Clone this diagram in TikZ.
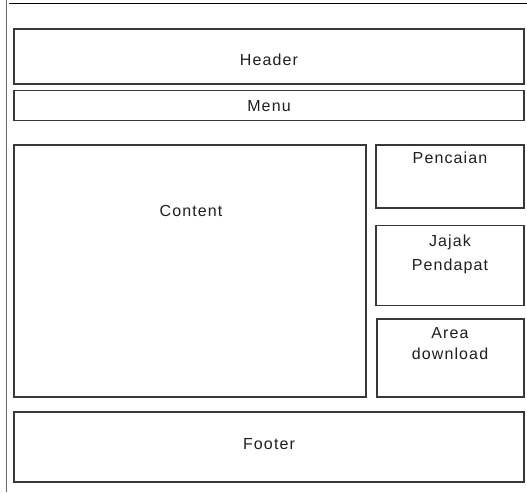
\documentclass[tikz,border=0pt]{standalone}
\usepackage{fontspec}
\setmainfont{Liberation Sans}[LetterSpace=7]
\begin{document}
\begin{tikzpicture}[x=0.75pt,y=-0.75pt,
  box/.style={draw=black!78, line width=0.9pt, fill=white, inner sep=0pt, anchor=center},
  lbl/.style={anchor=base, inner sep=0pt, font=\fontsize{12}{14}\selectfont, text=black!88}]
\useasboundingbox[fill=white] (0,0) rectangle (527,492);
% page frame
\coordinate (fl1) at (6.5,0);
\coordinate (fl2) at (6.5,492);
\coordinate (ft1) at (9,3.3);
\coordinate (ft2) at (527,3.3);
\draw[black!60, line width=1.2pt] (fl1) -- (fl2);
\draw[black, line width=0.8pt] (ft1) -- (ft2);
% boxes
\node[box, minimum width=382.5pt, minimum height=41.25pt] (header) at (269,56.5) {};
\node[box, minimum width=382.5pt, minimum height=22.5pt] (menu) at (269,105.5) {};
\node[box, minimum width=264pt, minimum height=189pt] (content) at (190,271) {};
\node[box, minimum width=111pt, minimum height=47.25pt] (pencaian) at (450,176.5) {};
\node[box, minimum width=111pt, minimum height=60pt] (jajak) at (450,265.5) {};
\node[box, minimum width=110.25pt, minimum height=58.5pt] (area) at (450.5,358) {};
\node[box, minimum width=382.5pt, minimum height=52.5pt] (footer) at (269,447) {};
% labels
\node[lbl] (theader) at (269,65) {Header};
\node[lbl] (tmenu) at (269,111) {Menu};
\node[lbl] (tcontent) at (191,216) {Content};
\node[lbl] (tpencaian) at (450,163) {Pencaian};
\node[lbl] (tjajak1) at (450,246) {Jajak};
\node[lbl] (tjajak2) at (450,270) {Pendapat};
\node[lbl] (tarea1) at (450,338) {Area};
\node[lbl] (tarea2) at (450,359) {download};
\node[lbl] (tfooter) at (269,449) {Footer};
\end{tikzpicture}
\end{document}
